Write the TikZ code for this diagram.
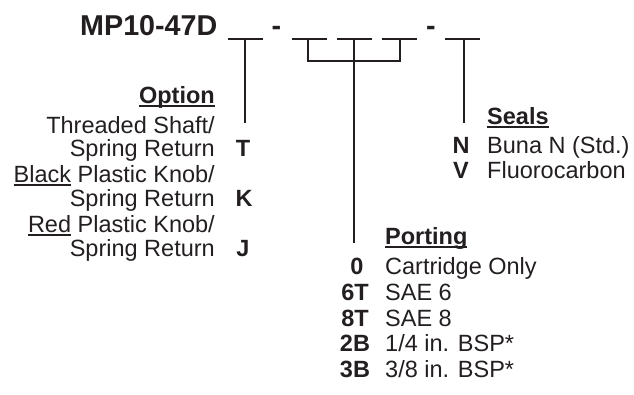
\documentclass[tikz,border=0pt]{standalone}
\usepackage{fontspec}
\setmainfont{Liberation Sans}
\definecolor{ink}{HTML}{231F20}
\newcommand{\myul}[1]{\setbox0\hbox{#1}\rlap{\rule[-2.6pt]{\wd0}{1.4pt}}\box0}
\begin{document}
\begin{tikzpicture}[x=1pt,y=-1pt,
  txt/.style={font=\fontsize{23.5}{24}\selectfont, inner sep=0pt, text=ink},
  codetxt/.style={font=\fontsize{23.5}{24}\selectfont\bfseries, inner sep=0pt, text=ink},
  hdr/.style={font=\fontsize{23.5}{24}\selectfont\bfseries, inner sep=0pt, text=ink},
  ttl/.style={font=\fontsize{28.7}{30}\selectfont\bfseries, inner sep=0pt, text=ink},
  ln/.style={draw=ink, line width=1.3pt},
  blank/.style={draw=ink, line width=1.3pt}]
\useasboundingbox (0,0) rectangle (634,395);
% title
\node[ttl, anchor=base west] (title) at (80,36) {MP10-47D};
\node[ttl, anchor=base] (dash1) at (276.5,36) {-};
\node[ttl, anchor=base] (dash2) at (431,36) {-};
% blanks
\coordinate (b1l) at (228,39); \coordinate (b1r) at (263,39);
\coordinate (b2l) at (292,39); \coordinate (b2r) at (327,39);
\coordinate (b3l) at (337,39); \coordinate (b3r) at (372,39);
\coordinate (b4l) at (382,39); \coordinate (b4r) at (417,39);
\coordinate (b5l) at (445,39); \coordinate (b5r) at (480,39);
\draw[blank] (b1l) -- (b1r);
\draw[blank] (b2l) -- (b2r);
\draw[blank] (b3l) -- (b3r);
\draw[blank] (b4l) -- (b4r);
\draw[blank] (b5l) -- (b5r);
% leader coordinates
\coordinate (t1) at (245,39);
\coordinate (t2) at (308,39);
\coordinate (t3) at (354,39);
\coordinate (t4) at (400,39);
\coordinate (t5) at (464,39);
\coordinate (k2) at (308,61);
\coordinate (k3) at (354,61);
\coordinate (k4) at (400,61);
\coordinate (e1) at (245,123);
\coordinate (e3) at (354,243);
\coordinate (e5) at (464,123);
\draw[ln] (t1) -- (e1);
\draw[ln] (t2) -- (k2) -- (k4) -- (t4);
\draw[ln] (t3) -- (e3);
\draw[ln] (t5) -- (e5);
% Option
\node[hdr, anchor=base east] (opth) at (215,104) {\myul{Option}};
\node[txt, anchor=base east] (o1a) at (215,134) {Threaded Shaft/};
\node[txt, anchor=base east] (o1b) at (215,157) {Spring Return};
\node[txt, anchor=base east] (o2a) at (215,183) {\myul{Black}\ Plastic Knob/};
\node[txt, anchor=base east] (o2b) at (215,207) {Spring Return};
\node[txt, anchor=base east] (o3a) at (215,233) {\myul{Red}\ Plastic Knob/};
\node[txt, anchor=base east] (o3b) at (215,257) {Spring Return};
\node[codetxt, anchor=base] (cT) at (243,157) {T};
\node[codetxt, anchor=base] (cK) at (244,207) {K};
\node[codetxt, anchor=base] (cJ) at (243,257) {J};
% Seals
\node[hdr, anchor=base west] (sealh) at (487,125) {\myul{Seals}};
\node[codetxt, anchor=base] (cN) at (461,154) {N};
\node[txt, anchor=base west] (sN) at (487,154) {Buna N (Std.)};
\node[codetxt, anchor=base] (cV) at (461,179) {V};
\node[txt, anchor=base west] (sV) at (487,179) {Fluorocarbon};
% Porting
\node[hdr, anchor=base west] (porth) at (385,245) {\myul{Porting}};
\node[codetxt, anchor=base] (c0) at (357,274) {0};
\node[txt, anchor=base west] (p0) at (385,274) {Cartridge Only};
\node[codetxt, anchor=base] (c6) at (355,300) {6T};
\node[txt, anchor=base west] (p6) at (385,300) {SAE 6};
\node[codetxt, anchor=base] (c8) at (355,326) {8T};
\node[txt, anchor=base west] (p8) at (385,326) {SAE 8};
\node[codetxt, anchor=base] (c2) at (355,351) {2B};
\node[txt, anchor=base west] (p2) at (385,351) {1/4 in. BSP*};
\node[codetxt, anchor=base] (c3) at (355,377) {3B};
\node[txt, anchor=base west] (p3) at (385,377) {3/8 in. BSP*};
\end{tikzpicture}
\end{document}
